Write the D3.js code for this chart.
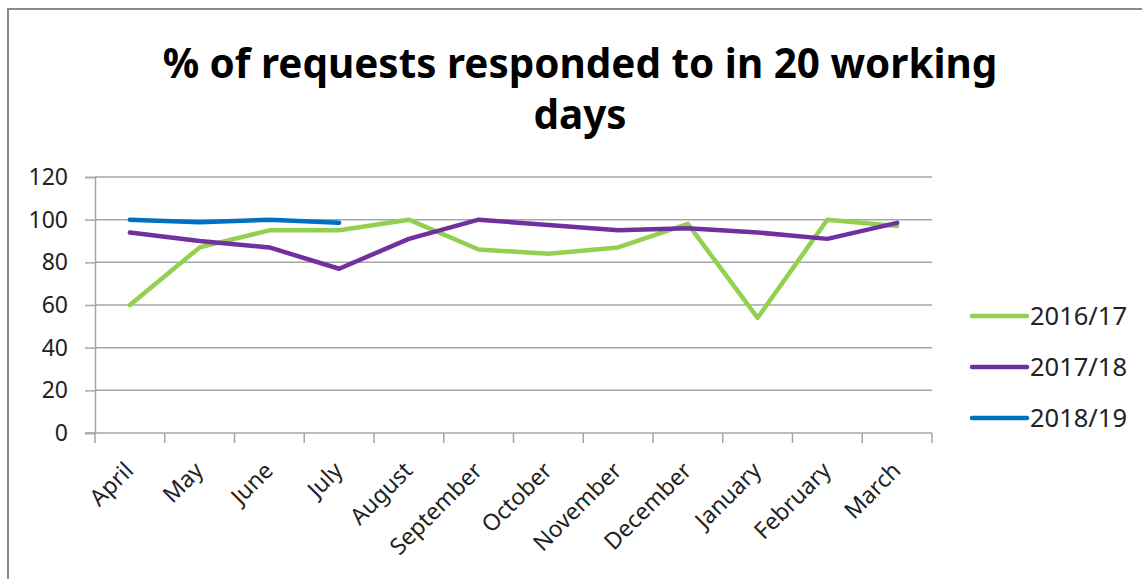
<!DOCTYPE html>
<html>
<head>
<meta charset="utf-8">
<script src="https://cdn.jsdelivr.net/npm/d3@7/dist/d3.min.js"></script>
<style>
  html, body { margin: 0; padding: 0; background: #fff; }
  svg { display: block; font-family: "Noto Sans", "Open Sans", sans-serif; }
</style>
</head>
<body>
<svg id="chart" width="1142" height="579"></svg>
<script>
const months = ["April","May","June","July","August","September","October","November","December","January","February","March"];
const yTicks = [0, 20, 40, 60, 80, 100, 120];
const seriesNames = ["2016/17", "2017/18", "2018/19"];
const values2016 = [60, 87, 95, 95, 100, 86, 84, 87, 98, 54, 100, 97];
const values2017 = [94, 90, 87, 77, 91, 100, 97.5, 95, 96, 94, 91, 98.5];
const values2018 = [100, 98.8, 100, 98.5];
const seriesColors = ["#92d050", "#7030a0", "#0070c0"];
const titleLines = ["% of requests responded to in 20 working", "days"];

(function () {
const series = [values2016, values2017, values2018].map((v, i) => ({
  name: seriesNames[i], color: seriesColors[i],
  points: v.map((val, j) => ({ m: months[j], v: val }))
}));

const svg = d3.select("#chart");

// outer border
svg.append("rect").attr("x", 8).attr("y", 9).attr("width", 1160).attr("height", 600)
  .attr("fill", "#fff").attr("stroke", "#8a8a8a").attr("stroke-width", 2);

const pl = 95, pr = 932, pt = 177, pb = 433;
const x = d3.scaleBand().domain(months).range([pl, pr]).padding(0);
const y = d3.scaleLinear().domain([0, 120]).range([pb, pt]);
const gridColor = "#a6a6a6";

// gridlines
svg.append("g").selectAll("line").data(yTicks.filter(t => t > 0)).join("line")
  .attr("x1", pl).attr("x2", pr)
  .attr("y1", d => y(d)).attr("y2", d => y(d))
  .attr("stroke", gridColor).attr("stroke-width", 1.5);

// y axis
const yAxis = svg.append("g").attr("transform", `translate(${pl},0)`)
  .call(d3.axisLeft(y).tickValues(yTicks).tickSize(10).tickPadding(17));
yAxis.select(".domain").attr("stroke", gridColor).attr("stroke-width", 1.5);
yAxis.selectAll(".tick line").attr("stroke", gridColor).attr("stroke-width", 1.5);
yAxis.selectAll("text").attr("font-size", 23).attr("fill", "#222")
  .attr("font-family", "'Noto Sans', sans-serif");

// x axis line and boundary ticks
const xg = svg.append("g");
xg.append("line").attr("x1", pl - 10).attr("x2", pr).attr("y1", pb).attr("y2", pb)
  .attr("stroke", gridColor).attr("stroke-width", 1.5);
const bounds = months.map(m => x(m)).concat([x.range()[1]]);
xg.selectAll("line.bt").data(bounds).join("line").attr("class", "bt")
  .attr("x1", d => d).attr("x2", d => d).attr("y1", pb).attr("y2", pb + 10)
  .attr("stroke", gridColor).attr("stroke-width", 1.5);
xg.selectAll("text").data(months).join("text")
  .attr("transform", d => `translate(${x(d) + x.bandwidth() / 2 + 5},${pb + 39}) rotate(-45)`)
  .attr("text-anchor", "end")
  .attr("font-size", 23).attr("fill", "#222")
  .text(d => d);

// lines
const line = d3.line().x(d => x(d.m) + x.bandwidth() / 2).y(d => y(d.v));
svg.append("g").selectAll("path").data(series).join("path")
  .attr("d", d => line(d.points))
  .attr("fill", "none").attr("stroke", d => d.color)
  .attr("stroke-width", 4.5).attr("stroke-linejoin", "round").attr("stroke-linecap", "round");

// legend
const legendY = [316, 367, 418];
const lg = svg.append("g").selectAll("g").data(series).join("g")
  .attr("transform", (d, i) => `translate(972,${legendY[i]})`);
lg.append("line").attr("x1", 0).attr("x2", 55).attr("y1", 0).attr("y2", 0)
  .attr("stroke", d => d.color).attr("stroke-width", 4.5).attr("stroke-linecap", "round");
lg.append("text").attr("x", 58).attr("dy", "0.36em").attr("font-size", 25.5).attr("fill", "#222")
  .text(d => d.name);

// title
const title = svg.append("g");
const t1 = title.append("text").attr("x", 580).attr("y", 78).attr("text-anchor", "middle")
  .attr("font-weight", "bold").attr("font-size", 38).attr("fill", "#000").text(titleLines[0]);
const w = t1.node().getComputedTextLength();
const fs = 38 * 835 / w;
t1.attr("font-size", fs);
title.append("text").attr("x", 580).attr("y", 129).attr("text-anchor", "middle")
  .attr("font-weight", "bold").attr("font-size", fs).attr("fill", "#000").text(titleLines[1]);
})();
</script>
</body>
</html>
